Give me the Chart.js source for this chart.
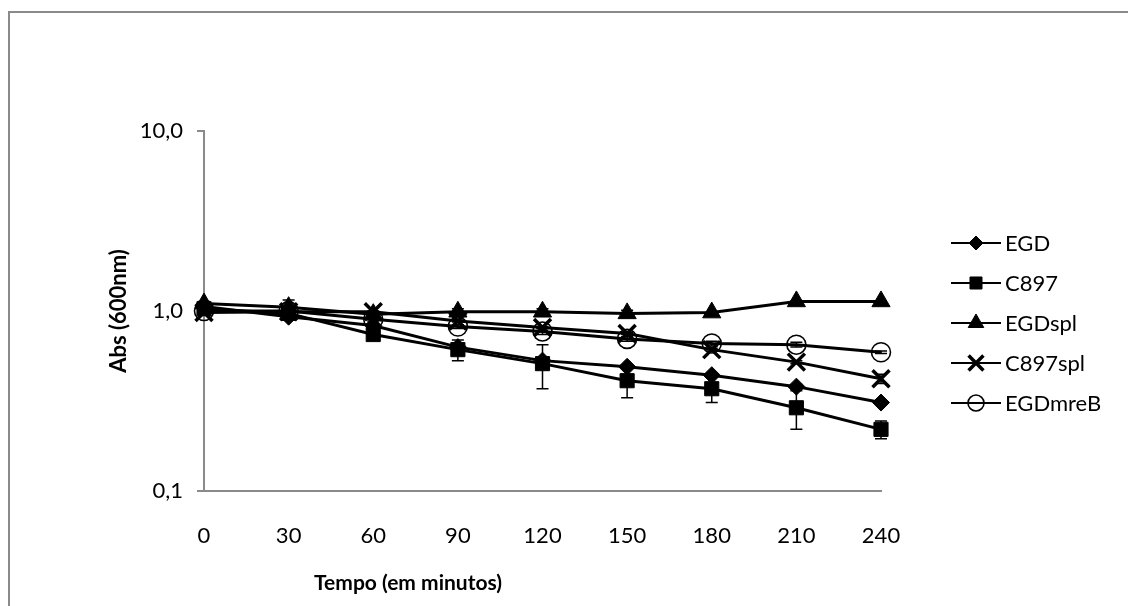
<!DOCTYPE html>
<html>
<head>
<meta charset="utf-8">
<script src="https://cdn.jsdelivr.net/npm/chart.js@4/dist/chart.umd.min.js"></script>
<style>
  html, body { margin: 0; padding: 0; background: #fff; overflow: hidden; }
  #wrap { position: relative; width: 1128px; height: 606px; }
  #frame { position: absolute; left: 8px; top: 11px; width: 1300px; height: 800px;
           border-left: 2px solid #8a8a8a; border-top: 2px solid #8a8a8a; pointer-events: none; }
</style>
</head>
<body>
<div id="wrap">
  <canvas id="absChart"></canvas>
  <div id="frame"></div>
</div>
<script>
const times = [0, 30, 60, 90, 120, 150, 180, 210, 240];

const seriesNames = ['EGD', 'C897', 'EGDspl', 'C897spl', 'EGDmreB'];

const egd     = [1.06, 0.93, 0.83, 0.63, 0.53, 0.49, 0.44, 0.38, 0.31];
const c897    = [1.03, 0.97, 0.74, 0.61, 0.51, 0.41, 0.37, 0.29, 0.22];
const egdSpl  = [1.10, 1.05, 0.96, 0.99, 0.99, 0.97, 0.98, 1.13, 1.13];
const c897Spl = [0.98, 0.99, 0.99, 0.88, 0.81, 0.75, 0.61, 0.52, 0.42];
const egdMreB = [1.00, 1.00, 0.90, 0.82, 0.77, 0.70, 0.66, 0.65, 0.59];

// standard deviations (error bars)
const egdErr     = [0.01, 0.01, 0.01, 0.01, 0.01, 0.01, 0.01, 0.01, 0.01];
const c897Err    = [0.03, 0.03, 0.03, 0.08, 0.14, 0.08, 0.06, 0.07, 0.025];
const egdSplErr  = [0.03, 0.10, 0.03, 0.04, 0.04, 0.04, 0.01, 0.01, 0.01];
const c897SplErr = [0.01, 0.01, 0.01, 0.01, 0.01, 0.01, 0.01, 0.01, 0.025];
const egdMreBErr = [0.02, 0.02, 0.02, 0.02, 0.03, 0.02, 0.02, 0.02, 0.01];

const yTicks = [0.1, 1, 10];

const values = [egd, c897, egdSpl, c897Spl, egdMreB];
const errors = [egdErr, c897Err, egdSplErr, c897SplErr, egdMreBErr];
const styles = [
  { pointStyle: 'rectRot',  radius: 8.5,  fill: '#000', bw: 1 },
  { pointStyle: 'rect',     radius: 10,   fill: '#000', bw: 1 },
  { pointStyle: 'triangle', radius: 10.5, fill: '#000', bw: 1 },
  { pointStyle: 'crossRot', radius: 12,   fill: '#000', bw: 3.5 },
  { pointStyle: 'circle',   radius: 9.5,  fill: 'rgba(0,0,0,0)', bw: 1.6 }
];

const datasets = seriesNames.map((name, i) => ({
  label: name,
  data: times.map((t, j) => ({ x: t, y: values[i][j] })),
  errs: errors[i],
  borderColor: '#000',
  borderWidth: 3,
  pointStyle: styles[i].pointStyle,
  pointRadius: styles[i].radius,
  pointHoverRadius: styles[i].radius,
  pointBackgroundColor: styles[i].fill,
  pointBorderColor: '#000',
  pointBorderWidth: styles[i].bw,
  fill: false,
  clip: false,
  tension: 0
}));

const errorBars = {
  id: 'errorBars',
  beforeDatasetsDraw(chart) {
    const ctx = chart.ctx;
    const xs = chart.scales.x, ys = chart.scales.y;
    ctx.save();
    ctx.strokeStyle = '#000';
    ctx.lineWidth = 1.5;
    chart.data.datasets.forEach(ds => {
      ds.data.forEach((p, j) => {
        const e = ds.errs[j];
        const x = xs.getPixelForValue(p.x);
        const y1 = ys.getPixelForValue(p.y + e);
        const y2 = ys.getPixelForValue(p.y - e);
        ctx.beginPath();
        ctx.moveTo(x, y1); ctx.lineTo(x, y2);
        ctx.moveTo(x - 6, y1); ctx.lineTo(x + 6, y1);
        ctx.moveTo(x - 6, y2); ctx.lineTo(x + 6, y2);
        ctx.stroke();
      });
    });
    ctx.restore();
  }
};

const sideLegend = {
  id: 'sideLegend',
  afterDraw(chart) {
    const ctx = chart.ctx;
    ctx.save();
    chart.data.datasets.forEach((ds, i) => {
      const y = 243 + i * 40;
      ctx.strokeStyle = '#000';
      ctx.lineWidth = 2;
      ctx.beginPath();
      ctx.moveTo(951, y); ctx.lineTo(1001, y);
      ctx.stroke();
      ctx.fillStyle = ds.pointBackgroundColor;
      ctx.strokeStyle = '#000';
      ctx.lineWidth = ds.pointBorderWidth;
      Chart.helpers.drawPoint(ctx, {
        pointStyle: ds.pointStyle, radius: ds.pointRadius - 1.5, rotation: 0, borderWidth: ds.pointBorderWidth
      }, 976, y);
      ctx.fillStyle = '#000';
      ctx.font = '22px Lato';
      ctx.textBaseline = 'middle';
      ctx.textAlign = 'left';
      ctx.fillText(ds.label, 1005, y + 1);
    });
    // x axis title, placed left of centre like the original
    ctx.font = 'bold 21px Lato';
    ctx.textAlign = 'center';
    ctx.textBaseline = 'middle';
    ctx.fillText('Tempo (em minutos)', 408, 583);
    ctx.restore();
  }
};

new Chart(document.getElementById('absChart'), {
  type: 'line',
  data: { datasets: datasets },
  options: {
    responsive: true,
    maintainAspectRatio: false,
    animation: false,
    layout: { padding: { left: 102, top: 131, right: 247, bottom: 7 } },
    plugins: { legend: { display: false }, tooltip: { enabled: false } },
    scales: {
      x: {
        type: 'linear',
        min: 0,
        max: 240,
        afterFit(scale) { scale.height = 108; },
        ticks: { stepSize: 30, padding: 32, color: '#000', font: { family: 'Lato', size: 22 } },
        grid: { drawOnChartArea: false, drawTicks: false },
        border: { color: '#8a8a8a', width: 2 }
      },
      y: {
        type: 'logarithmic',
        min: 0.1,
        max: 10,
        afterFit(scale) { scale.width = 102; },
        afterBuildTicks(scale) { scale.ticks = yTicks.map(v => ({ value: v })); },
        ticks: {
          padding: 14, color: '#000', font: { family: 'Lato', size: 22 },
          callback: v => v.toFixed(1).replace('.', ',')
        },
        grid: { drawOnChartArea: false, drawTicks: true, tickLength: 7, color: '#8a8a8a', lineWidth: 2 },
        border: { color: '#8a8a8a', width: 2 },
        title: { display: true, text: 'Abs (600nm)', color: '#000',
                 font: { family: 'Lato', size: 22, weight: 'bold' } }
      }
    }
  },
  plugins: [errorBars, sideLegend]
});
</script>
</body>
</html>
